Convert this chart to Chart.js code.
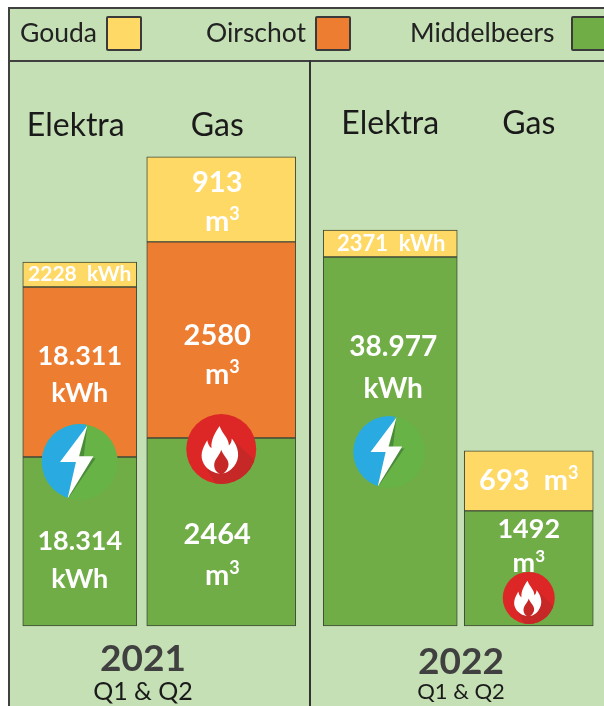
<!DOCTYPE html>
<html>
<head>
<meta charset="utf-8">
<script src="https://cdn.jsdelivr.net/npm/chart.js@4"></script>
<style>
  html, body { margin: 0; padding: 0; background: #fff; }
  body { width: 604px; height: 706px; overflow: hidden; position: relative; font-family: Lato, sans-serif; }
  #panel { position: absolute; left: 8px; top: 7px; width: 600px; height: 710px; box-sizing: border-box; background: #C5E0B4; border: 2px solid #404040; }
  #rule { position: absolute; left: 8px; top: 60px; width: 596px; height: 2px; background: #404040; }
  #divider { position: absolute; left: 309px; top: 60px; width: 2px; height: 646px; background: #333; }
  .legend-text { position: absolute; top: 14px; font-size: 26.5px; line-height: 36px; color: #222; white-space: nowrap; }
  .legend-box { position: absolute; top: 16px; width: 36px; height: 35px; box-sizing: border-box; border: 2px solid #3a3a3a; border-radius: 2px; }
  canvas { position: absolute; top: 0; }
</style>
</head>
<body>
<div id="panel"></div>
<div id="rule"></div>
<div id="divider"></div>
<canvas id="chart2021" width="334" height="706" style="left:-24px"></canvas>
<canvas id="chart2022" width="286" height="706" style="left:318px"></canvas>
<script>
const measures = ['Elektra', 'Gas']
const cities = ['Gouda', 'Oirschot', 'Middelbeers']
const cityColors = ['#FFD966', '#ED7D31', '#70AD47']

// the picture is not drawn strictly to scale, so these are the bar heights as
// read off the image; the printed figures are kept in the label arrays below
const gouda2021 = [2650, 1097]
const oirschot2021 = [18010, 2530]
const middelbeers2021 = [17910, 2425]
const gouda2022 = [2860, 775]
const middelbeers2022 = [39100, 1485]

const gouda2021Labels = [['2228  kWh'], ['913', 'm³']]
const oirschot2021Labels = [['18.311', 'kWh'], ['2580', 'm³']]
const middelbeers2021Labels = [['18.314', 'kWh'], ['2464', 'm³']]
const gouda2022Labels = [['2371  kWh'], ['693  m³']]
const middelbeers2022Labels = [['38.977', 'kWh'], ['1492', 'm³']]

const elektraMax = 51500
const gasMax = 6270

function drawBolt(ctx, x, y, r) {
  ctx.save()
  ctx.translate(x, y)
  ctx.scale(r, r)
  ctx.beginPath()
  ctx.arc(0, 0, 1, 0, Math.PI * 2)
  ctx.fillStyle = '#67B346'
  ctx.fill()
  ctx.clip()
  ctx.beginPath()
  ctx.moveTo(0.2, -1.1)
  ctx.lineTo(-0.36, 1.1)
  ctx.lineTo(-1.1, 1.1)
  ctx.lineTo(-1.1, -1.1)
  ctx.closePath()
  ctx.fillStyle = '#29ABE2'
  ctx.fill()
  ctx.beginPath()
  ctx.moveTo(0.2, -0.96)
  ctx.lineTo(0.1, -0.1)
  ctx.lineTo(0.42, -0.1)
  ctx.lineTo(-0.28, 0.92)
  ctx.closePath()
  ctx.fillStyle = '#4A8A3A'
  ctx.fill()
  ctx.beginPath()
  ctx.moveTo(0.2, -0.96)
  ctx.lineTo(-0.52, 0)
  ctx.lineTo(-0.1, 0)
  ctx.lineTo(-0.32, 0.96)
  ctx.lineTo(0.36, -0.15)
  ctx.lineTo(-0.02, -0.15)
  ctx.closePath()
  ctx.fillStyle = '#fff'
  ctx.fill()
  ctx.restore()
}

function drawFlame(ctx, x, y, r) {
  ctx.save()
  ctx.translate(x, y)
  ctx.scale(r, r)
  ctx.beginPath()
  ctx.arc(0, 0, 1, 0, Math.PI * 2)
  ctx.fillStyle = '#DD2727'
  ctx.fill()
  ctx.clip()
  ctx.beginPath()
  ctx.moveTo(0.3, -0.3)
  ctx.lineTo(1.1, 0.45)
  ctx.lineTo(1.1, 1.1)
  ctx.lineTo(-0.1, 1.1)
  ctx.lineTo(-0.4, 0.6)
  ctx.closePath()
  ctx.fillStyle = '#C62828'
  ctx.fill()
  ctx.beginPath()
  ctx.moveTo(-0.05, -0.66)
  ctx.bezierCurveTo(0.05, -0.4, 0.2, -0.35, 0.22, -0.1)
  ctx.bezierCurveTo(0.27, -0.15, 0.3, -0.22, 0.3, -0.3)
  ctx.bezierCurveTo(0.5, -0.05, 0.56, 0.25, 0.36, 0.5)
  ctx.bezierCurveTo(0.28, 0.6, 0.15, 0.7, 0, 0.7)
  ctx.bezierCurveTo(-0.2, 0.7, -0.4, 0.6, -0.5, 0.42)
  ctx.bezierCurveTo(-0.62, 0.2, -0.55, 0, -0.4, -0.25)
  ctx.bezierCurveTo(-0.38, -0.15, -0.35, -0.08, -0.28, -0.02)
  ctx.bezierCurveTo(-0.3, -0.3, -0.15, -0.5, -0.05, -0.66)
  ctx.fillStyle = '#fff'
  ctx.fill()
  ctx.beginPath()
  ctx.moveTo(0, 0.02)
  ctx.bezierCurveTo(0.05, 0.2, 0.25, 0.3, 0.2, 0.5)
  ctx.bezierCurveTo(0.15, 0.65, 0.05, 0.72, 0, 0.72)
  ctx.bezierCurveTo(-0.05, 0.72, -0.18, 0.65, -0.2, 0.5)
  ctx.bezierCurveTo(-0.22, 0.3, -0.05, 0.2, 0, 0.02)
  ctx.fillStyle = '#C62828'
  ctx.fill()
  ctx.restore()
}

// Lato's own superscript is tiny, so the 3 of m³ is set small and raised by hand
function drawLine(ctx, line, x, y, size) {
  ctx.font = 'bold ' + size + 'px Lato, sans-serif'
  if (!line.endsWith('³')) {
    ctx.fillText(line, x, y)
    return
  }
  const base = line.slice(0, -1)
  const baseWidth = ctx.measureText(base).width
  ctx.font = 'bold ' + Math.round(size * 0.62) + 'px Lato, sans-serif'
  const supWidth = ctx.measureText('3').width
  const left = x - (baseWidth + supWidth) / 2
  ctx.fillText('3', left + baseWidth + supWidth / 2, y - size * 0.26)
  ctx.font = 'bold ' + size + 'px Lato, sans-serif'
  ctx.fillText(base, left + baseWidth / 2, y)
}

const barLabels = {
  id: 'barLabels',
  afterDatasetsDraw(chart) {
    const ctx = chart.ctx
    ctx.save()
    ctx.fillStyle = '#fff'
    ctx.textAlign = 'center'
    ctx.textBaseline = 'middle'
    chart.data.datasets.forEach((ds, d) => {
      const bar = chart.getDatasetMeta(d).data[ds.measure]
      const lines = ds.labelLines
      const mid = (bar.y + bar.base) / 2 + ds.labelShift
      lines.forEach((line, i) => {
        // on the wide gas bar of 2021 the unit line sits right of the number
        const dx = i === 1 && ds.barThickness === 149 ? ds.labelDx + 5 : ds.labelDx
        drawLine(ctx, line, bar.x + dx, mid + (i - (lines.length - 1) / 2) * ds.labelGap, ds.labelSize)
      })
    })
    // icons go last so they lie over every segment
    chart.data.datasets.forEach((ds, d) => {
      if (ds.icon) {
        const bar = chart.getDatasetMeta(d).data[ds.measure]
        ds.icon.draw(ctx, bar.x + ds.icon.dx, bar.y + ds.icon.dy, ds.icon.r)
      }
    })
    ctx.restore()
  }
}

function makeDataset(city, measure, value, width, lines, labelSize, labelGap, labelShift, labelDx, icon) {
  const c = cities.indexOf(city)
  return {
    label: city,
    measure,
    data: measures.map((m, i) => i === measure ? value : null),
    yAxisID: measure === 0 ? 'yElektra' : 'yGas',
    stack: 'all',
    barThickness: width,
    backgroundColor: cityColors[c],
    borderColor: '#3F4A38',
    borderWidth: 1,
    borderSkipped: false,
    clip: false,
    labelLines: lines,
    labelSize,
    labelGap,
    labelShift,
    labelDx,
    icon
  }
}

function makePanel(id, year, datasets, layout) {
  return new Chart(document.getElementById(id), {
    type: 'bar',
    data: { labels: measures, datasets },
    plugins: [barLabels],
    options: {
      responsive: false,
      animation: false,
      layout: { padding: { left: 0, right: 0, top: 80, bottom: 0 } },
      plugins: {
        legend: { display: false },
        tooltip: { enabled: false },
        title: {
          display: true,
          position: 'bottom',
          weight: 1000,
          text: year,
          color: '#404040',
          font: { family: 'Lato, sans-serif', size: 37, weight: 'bold', lineHeight: 1 },
          padding: layout.titlePad
        },
        subtitle: {
          display: true,
          position: 'bottom',
          weight: 2000,
          text: 'Q1 & Q2',
          color: '#1a1a1a',
          font: { family: 'Lato, sans-serif', size: layout.subSize, lineHeight: 1 },
          padding: layout.subPad
        }
      },
      scales: {
        x: {
          position: 'top',
          stacked: true,
          afterFit: s => { s.height = 60 },
          grid: { display: false },
          border: { display: false },
          ticks: {
            color: '#1a1a1a',
            padding: layout.tickPad,
            labelOffset: layout.tickOffset,
            maxRotation: 0,
            font: { family: 'Lato, sans-serif', size: 32 }
          }
        },
        // both value axes stay unlabelled; their widths inset the plot inside the title's span
        yElektra: {
          position: 'left',
          stacked: true,
          min: 0,
          max: elektraMax,
          afterFit: s => { s.width = layout.insetLeft },
          grid: { display: false },
          border: { display: false },
          ticks: { display: false }
        },
        yGas: {
          position: 'right',
          stacked: true,
          min: 0,
          max: gasMax,
          afterFit: s => { s.width = layout.insetRight },
          grid: { display: false },
          border: { display: false },
          ticks: { display: false }
        }
      }
    }
  })
}

const elektra = 0
const gas = 1

makePanel('chart2021', '2021', [
  makeDataset('Middelbeers', elektra, middelbeers2021[0], 114, middelbeers2021Labels[0], 27, 38, 19, 0, { draw: drawBolt, dx: 0, dy: 5, r: 38 }),
  makeDataset('Middelbeers', gas, middelbeers2021[1], 149, middelbeers2021Labels[1], 29, 41, 23, -4, { draw: drawFlame, dx: 0, dy: 11, r: 35 }),
  makeDataset('Oirschot', elektra, oirschot2021[0], 114, oirschot2021Labels[0], 27, 37, 3, 0),
  makeDataset('Oirschot', gas, oirschot2021[1], 149, oirschot2021Labels[1], 29, 39, 15, -4),
  makeDataset('Gouda', elektra, gouda2021[0], 114, gouda2021Labels[0], 21, 0, 0, 0),
  makeDataset('Gouda', gas, gouda2021[1], 149, gouda2021Labels[1], 29, 39, 3, -4)
], { insetLeft: 33, insetRight: 18, tickOffset: -4, tickPad: -13, titlePad: { top: 15, bottom: 0 }, subPad: { top: 1, bottom: 2 }, subSize: 25 })

makePanel('chart2022', '2022', [
  makeDataset('Middelbeers', elektra, middelbeers2022[0], 134, middelbeers2022Labels[0], 28, 42, -74, 3, { draw: drawBolt, dx: -1, dy: 195, r: 36 }),
  makeDataset('Middelbeers', gas, middelbeers2022[1], 129, middelbeers2022Labels[1], 27, 34, -22, 0, { draw: drawFlame, dx: 0, dy: 87, r: 26 }),
  makeDataset('Gouda', elektra, gouda2022[0], 134, gouda2022Labels[0], 22, 0, 0, 1),
  makeDataset('Gouda', gas, gouda2022[1], 129, gouda2022Labels[1], 29, 0, 0, 0)
], { insetLeft: 3, insetRight: 6, tickOffset: 0, tickPad: -11, titlePad: { top: 18, bottom: 0 }, subPad: { top: 0, bottom: 3 }, subSize: 22 })

const legendRow = [[20, 106], [206, 315], [410, 571]]
cities.forEach((city, i) => {
  const text = document.createElement('div')
  text.className = 'legend-text'
  text.style.left = legendRow[i][0] + 'px'
  text.textContent = city
  document.body.appendChild(text)
  const box = document.createElement('div')
  box.className = 'legend-box'
  box.style.left = legendRow[i][1] + 'px'
  box.style.background = cityColors[i]
  document.body.appendChild(box)
})
</script>
</body>
</html>
